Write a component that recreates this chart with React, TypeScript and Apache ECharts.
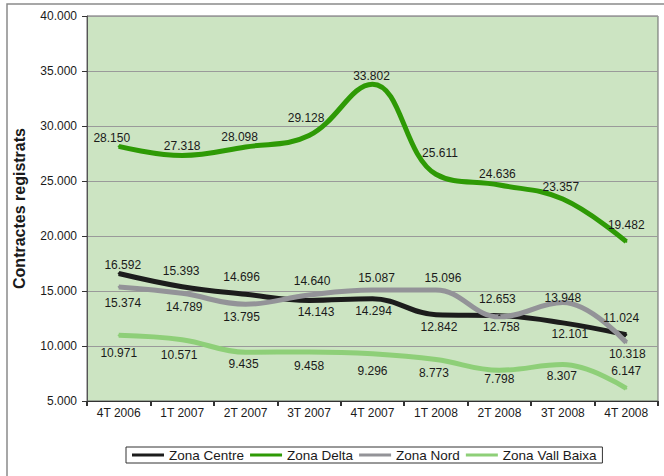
import React, { useEffect, useRef } from "react";
import * as echarts from "echarts";

const categories = ["4T 2006", "1T 2007", "2T 2007", "3T 2007", "4T 2007", "1T 2008", "2T 2008", "3T 2008", "4T 2008"];
const seriesNames = ["Zona Centre", "Zona Delta", "Zona Nord", "Zona Vall Baixa"];
const centre = [16592, 15393, 14696, 14143, 14294, 12842, 12758, 12101, 11024];
const delta = [28150, 27318, 28098, 29128, 33802, 25611, 24636, 23357, 19482];
const nord = [15374, 14789, 13795, 14640, 15087, 15096, 12653, 13948, 10318];
const vallBaixa = [10971, 10571, 9435, 9458, 9296, 8773, 7798, 8307, 6147];

// label placement (pixel offsets from each point), styling only
const centreLabelOffsets = [[4, -8], [-1, -16], [-4, -17], [7, 12], [1, 12], [3, 12], [2, 11], [7, 11], [-5, -17]];
const deltaLabelOffsets = [[-7, -8], [0, -10], [-6, -10], [-3, -18], [-1, -8], [4, -21], [-2, -11], [-2, -12], [0, -17]];
const nordLabelOffsets = [[4, 16], [2, 14], [-4, 13], [3, -14], [4, -12], [7, -12], [-2, -18], [0, -5], [1, 11]];
const vallLabelOffsets = [[0, 18], [-3, 15], [-2, 12], [0, 14], [0, 17], [-2, 14], [0, 9], [-1, 11], [0, -17]];

const fmt = (n: number) => String(Math.round(n)).replace(/\B(?=(\d{3})+(?!\d))/g, ".");

export default function App() {
  const ref = useRef<HTMLDivElement>(null);
  useEffect(() => {
    if (!ref.current) return;
    const chart = echarts.init(ref.current, null, { renderer: "svg" });
    const font = "'Liberation Sans', Arial, sans-serif";
    const mk = (name: string, values: number[], offs: number[][], color: string, width: number) => ({
      name,
      type: "line",
      smooth: 0.4,
      symbol: "circle",
      symbolSize: 2,
      showSymbol: true,
      itemStyle: { color },
      lineStyle: { color, width },
      label: {
        show: true,
        position: "inside",
        color: "#1a1a1a",
        fontSize: 12,
        fontFamily: font,
        formatter: (p: any) => fmt(p.value),
      },
      emphasis: { disabled: true },
      data: values.map((v, i) => ({ value: v, label: { offset: offs[i] } })),
    });
    chart.setOption({
      animation: false,
      textStyle: { fontFamily: font },
      graphic: [
        {
          type: "rect",
          shape: { x: 7, y: 4, width: 700, height: 600 },
          style: { fill: "none", stroke: "#8a8a8a", lineWidth: 1.5 },
          silent: true,
        },
      ],
      grid: {
        left: 87,
        top: 16,
        right: 6,
        bottom: 75,
        show: true,
        backgroundColor: "#cce4c2",
        borderColor: "#666",
        borderWidth: 1,
      },
      legend: {
        left: 126,
        top: 447,
        data: seriesNames,
        icon: "rect",
        itemWidth: 32,
        itemHeight: 3,
        itemGap: 6,
        padding: [1, 6, 1, 6],
        borderColor: "#333",
        borderWidth: 1,
        backgroundColor: "#fff",
        textStyle: { fontSize: 13.5, color: "#1a1a1a", fontFamily: font },
      },
      xAxis: {
        type: "category",
        data: categories,
        boundaryGap: true,
        axisLine: { lineStyle: { color: "#333" } },
        axisTick: { show: true, length: 5, lineStyle: { color: "#333", width: 2 } },
        axisLabel: { color: "#1a1a1a", fontSize: 12, margin: 6, fontFamily: font },
      },
      yAxis: {
        type: "value",
        min: 5000,
        max: 40000,
        interval: 5000,
        name: "Contractes registrats",
        nameLocation: "middle",
        nameGap: 60,
        nameTextStyle: { fontSize: 16, fontWeight: "bold", color: "#1a1a1a", fontFamily: font },
        axisLine: { show: true, lineStyle: { color: "#555" } },
        axisTick: { show: true, length: 5, lineStyle: { color: "#333" } },
        axisLabel: { color: "#1a1a1a", fontSize: 12, margin: 10, fontFamily: font, formatter: (v: number) => fmt(v) },
        splitLine: { lineStyle: { color: "#9a9a9a", width: 1 } },
      },
      series: [
        mk(seriesNames[0], centre, centreLabelOffsets, "#1c1c1c", 5),
        mk(seriesNames[1], delta, deltaLabelOffsets, "#2e9a05", 5),
        mk(seriesNames[2], nord, nordLabelOffsets, "#939398", 5),
        mk(seriesNames[3], vallBaixa, vallLabelOffsets, "#8ecf78", 5),
      ],
    });
    return () => chart.dispose();
  }, []);
  return (
    <div
      ref={ref}
      style={{ position: "absolute", left: 0, top: 0, width: 664, height: 476 }}
    />
  );
}
